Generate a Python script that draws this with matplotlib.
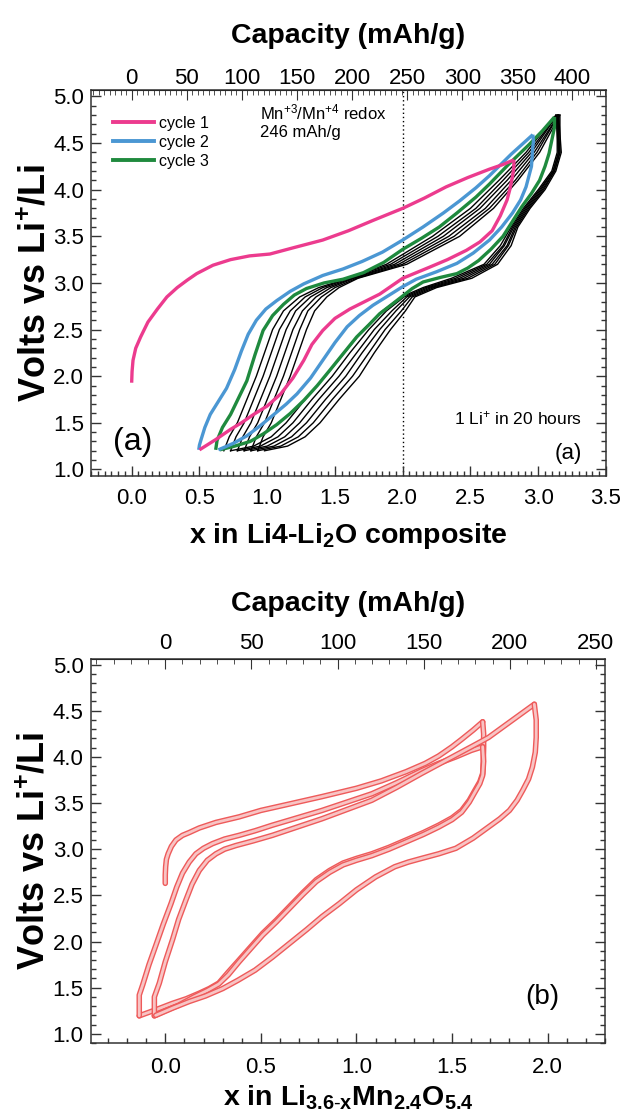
import numpy as np
import matplotlib
matplotlib.use("Agg")
import matplotlib.pyplot as plt
from matplotlib.ticker import MultipleLocator
import matplotlib.patheffects as pe

plt.rcParams['font.family'] = ['Liberation Sans', 'DejaVu Sans']
plt.rcParams['mathtext.fontset'] = 'custom'
plt.rcParams['mathtext.rm'] = 'Liberation Sans'
plt.rcParams['mathtext.it'] = 'Liberation Sans:italic'
plt.rcParams['mathtext.bf'] = 'Liberation Sans:bold'

# ---------------- Panel (a) data ----------------
cyc1_charge_x = [0.0, 0.003, 0.01, 0.03, 0.066, 0.12, 0.19, 0.26, 0.336, 0.41, 0.48, 0.6, 0.73, 0.87,
                 1.02, 1.2, 1.41, 1.6, 1.78, 2.0, 2.16, 2.32, 2.48, 2.64, 2.74, 2.82]
cyc1_charge_v = [1.93, 2.05, 2.17, 2.30, 2.42, 2.58, 2.72, 2.85, 2.95, 3.03, 3.10, 3.19, 3.25, 3.29,
                 3.31, 3.38, 3.46, 3.56, 3.67, 3.80, 3.91, 4.03, 4.13, 4.22, 4.27, 4.32]
cyc1_dis_x = [2.82, 2.82, 2.81, 2.79, 2.77, 2.72, 2.66, 2.57, 2.47, 2.33, 2.20, 2.10, 2.0, 1.92, 1.83,
              1.72, 1.61, 1.50, 1.41, 1.33, 1.27, 1.19, 1.10, 1.0, 0.90, 0.81, 0.73, 0.62, 0.50]
cyc1_dis_v = [4.32, 4.24, 4.14, 4.0, 3.89, 3.72, 3.56, 3.44, 3.35, 3.25, 3.17, 3.11, 3.05, 2.97, 2.88,
              2.80, 2.72, 2.62, 2.49, 2.34, 2.17, 1.98, 1.81, 1.68, 1.59, 1.50, 1.43, 1.32, 1.21]

cyc2_charge_x = [0.495, 0.50, 0.51, 0.54, 0.58, 0.64, 0.70, 0.76, 0.81, 0.86, 0.92, 0.99, 1.07, 1.17,
                 1.27, 1.41, 1.56, 1.70, 1.85, 2.0, 2.15, 2.3, 2.42, 2.54, 2.64, 2.8, 2.96]
cyc2_charge_v = [1.21, 1.26, 1.31, 1.45, 1.59, 1.73, 1.87, 2.07, 2.27, 2.45, 2.60, 2.72, 2.81, 2.91,
                 2.99, 3.08, 3.15, 3.23, 3.33, 3.46, 3.60, 3.75, 3.88, 4.02, 4.15, 4.38, 4.59]
cyc2_dis_x = [2.96, 2.965, 2.96, 2.955, 2.95, 2.93, 2.91, 2.87, 2.81, 2.73, 2.64, 2.52, 2.40, 2.25, 2.10,
              2.0, 1.89, 1.78, 1.68, 1.59, 1.50, 1.41, 1.32, 1.22, 1.14, 1.05, 0.95, 0.85, 0.75, 0.64]
cyc2_dis_v = [4.59, 4.52, 4.46, 4.35, 4.25, 4.14, 4.03, 3.89, 3.75, 3.60, 3.46, 3.32, 3.21, 3.12, 3.04,
              2.96, 2.86, 2.76, 2.65, 2.53, 2.36, 2.17, 1.98, 1.81, 1.70, 1.59, 1.47, 1.36, 1.28, 1.21]

cyc3_charge_x = [0.62, 0.625, 0.63, 0.67, 0.73, 0.79, 0.85, 0.91, 0.97, 1.04, 1.12, 1.2, 1.29, 1.42,
                 1.56, 1.71, 1.86, 2.0, 2.14, 2.27, 2.40, 2.54, 2.64, 2.78, 2.93, 3.03, 3.12]
cyc3_charge_v = [1.21, 1.26, 1.31, 1.45, 1.59, 1.77, 1.95, 2.23, 2.49, 2.65, 2.77, 2.87, 2.94, 3.0,
                 3.04, 3.11, 3.22, 3.36, 3.48, 3.60, 3.75, 3.92, 4.06, 4.27, 4.48, 4.63, 4.78]
cyc3_dis_x = [3.12, 3.12, 3.10, 3.08, 3.05, 3.01, 2.95, 2.88, 2.81, 2.74, 2.65, 2.56, 2.48, 2.40, 2.28,
              2.15, 2.07, 2.0, 1.92, 1.83, 1.75, 1.66, 1.56, 1.46, 1.37, 1.27, 1.17, 1.07, 0.97, 0.875,
              0.76, 0.65]
cyc3_dis_v = [4.78, 4.67, 4.53, 4.39, 4.25, 4.10, 3.96, 3.82, 3.66, 3.50, 3.36, 3.24, 3.16, 3.10, 3.06,
              3.01, 2.94, 2.86, 2.77, 2.67, 2.55, 2.42, 2.24, 2.06, 1.90, 1.74, 1.60, 1.48, 1.38, 1.30,
              1.25, 1.21]

# later cycles (black): x read at fixed voltage levels
later_charge_v = [1.2, 1.35, 1.5, 1.75, 2.0, 2.25, 2.5, 2.7, 2.85, 2.95, 3.05, 3.2, 3.5, 3.8, 4.1, 4.4, 4.8]
later_charge_x = [
    [0.68, 0.72, 0.78, 0.85, 0.92, 0.98, 1.04, 1.12, 1.24, 1.38, 1.60, 1.88, 2.22, 2.50, 2.71, 2.91, 3.13],
    [0.73, 0.77, 0.83, 0.90, 0.97, 1.03, 1.09, 1.17, 1.28, 1.41, 1.61, 1.91, 2.26, 2.54, 2.74, 2.93, 3.14],
    [0.78, 0.82, 0.88, 0.95, 1.02, 1.08, 1.14, 1.21, 1.32, 1.44, 1.63, 1.94, 2.30, 2.57, 2.77, 2.95, 3.14],
    [0.83, 0.87, 0.93, 1.00, 1.07, 1.13, 1.19, 1.26, 1.36, 1.47, 1.64, 1.97, 2.34, 2.61, 2.80, 2.97, 3.15],
    [0.88, 0.92, 0.98, 1.05, 1.12, 1.18, 1.24, 1.30, 1.40, 1.50, 1.66, 2.00, 2.38, 2.64, 2.83, 2.99, 3.15],
    [0.93, 0.97, 1.03, 1.10, 1.17, 1.23, 1.29, 1.35, 1.44, 1.53, 1.67, 2.03, 2.42, 2.67, 2.85, 3.01, 3.16],
]
later_dis_v = [4.8, 4.6, 4.4, 4.2, 4.0, 3.8, 3.6, 3.4, 3.2, 3.05, 2.95, 2.85, 2.7, 2.5, 2.25, 2.0, 1.75,
               1.5, 1.35, 1.25, 1.2]
later_dis_x = [
    [3.13, 3.14, 3.14, 3.10, 3.00, 2.89, 2.80, 2.72, 2.60, 2.36, 2.15, 1.99, 1.85, 1.71, 1.57, 1.43, 1.28, 1.14, 1.03, 0.90, 0.73],
    [3.14, 3.14, 3.15, 3.11, 3.01, 2.90, 2.81, 2.74, 2.62, 2.39, 2.17, 2.01, 1.88, 1.75, 1.61, 1.48, 1.33, 1.19, 1.08, 0.95, 0.78],
    [3.14, 3.15, 3.15, 3.11, 3.02, 2.91, 2.82, 2.75, 2.64, 2.42, 2.19, 2.03, 1.92, 1.79, 1.66, 1.53, 1.38, 1.24, 1.13, 1.00, 0.83],
    [3.15, 3.15, 3.16, 3.12, 3.03, 2.92, 2.83, 2.77, 2.66, 2.45, 2.21, 2.05, 1.95, 1.83, 1.70, 1.58, 1.43, 1.29, 1.18, 1.05, 0.88],
    [3.15, 3.16, 3.16, 3.12, 3.04, 2.93, 2.84, 2.78, 2.68, 2.48, 2.23, 2.07, 1.99, 1.87, 1.75, 1.63, 1.48, 1.34, 1.23, 1.10, 0.93],
    [3.16, 3.16, 3.17, 3.13, 3.05, 2.94, 2.85, 2.80, 2.70, 2.51, 2.25, 2.09, 2.02, 1.91, 1.79, 1.68, 1.53, 1.39, 1.28, 1.15, 0.98],
]

cap_per_x_a = 123.0   # mAh/g per Li (246 mAh/g at x = 2)
cap_ticks_a = [0, 50, 100, 150, 200, 250, 300, 350, 400]
x_ticks_a = [0.0, 0.5, 1.0, 1.5, 2.0, 2.5, 3.0, 3.5]
legend_labels = ['cycle 1', 'cycle 2', 'cycle 3']

# ---------------- Panel (b) data ----------------
b_charge1_x = [0.0, 0.0, 0.002, 0.006, 0.015, 0.032, 0.056, 0.09, 0.125, 0.178, 0.265, 0.386, 0.5, 0.65,
               0.82, 1.0, 1.13, 1.26, 1.36, 1.43, 1.50, 1.55, 1.61, 1.66]
b_charge1_v = [2.63, 2.72, 2.81, 2.89, 2.95, 3.03, 3.10, 3.15, 3.18, 3.23, 3.29, 3.35, 3.42, 3.49,
               3.57, 3.66, 3.74, 3.84, 3.93, 4.01, 4.11, 4.19, 4.29, 4.38]
b_dis1_x = [1.66, 1.665, 1.665, 1.663, 1.66, 1.645, 1.62, 1.59, 1.55, 1.50, 1.43, 1.35, 1.26, 1.17, 1.08,
            1.0, 0.93, 0.86, 0.79, 0.72, 0.65, 0.58, 0.51, 0.45, 0.386, 0.33, 0.28, 0.23, 0.178, 0.11,
            0.038, -0.05, -0.136]
b_dis1_v = [4.38, 4.25, 4.11, 3.95, 3.82, 3.73, 3.64, 3.53, 3.42, 3.34, 3.26, 3.18, 3.10, 3.02, 2.95,
            2.90, 2.85, 2.77, 2.67, 2.53, 2.38, 2.23, 2.09, 1.95, 1.80, 1.67, 1.55, 1.49, 1.44, 1.38,
            1.33, 1.26, 1.195]
b_charge2_x = [-0.136, -0.136, -0.118, -0.085, -0.049, -0.01, 0.03, 0.06, 0.09, 0.125, 0.16, 0.2, 0.247,
               0.31, 0.386, 0.47, 0.56, 0.69, 0.82, 0.95, 1.08, 1.21, 1.34, 1.43, 1.52, 1.6, 1.66]
b_charge2_v = [1.195, 1.42, 1.53, 1.75, 1.96, 2.19, 2.41, 2.59, 2.74, 2.86, 2.95, 3.01, 3.06,
               3.11, 3.15, 3.20, 3.26, 3.34, 3.42, 3.51, 3.60, 3.72, 3.85, 3.93, 4.00, 4.07, 4.11]
b_dis2_x = [1.66, 1.665, 1.66, 1.645, 1.62, 1.59, 1.55, 1.50, 1.43, 1.35, 1.26, 1.17, 1.08, 1.0, 0.93,
            0.86, 0.79, 0.72, 0.65, 0.58, 0.51, 0.45, 0.386, 0.33, 0.28, 0.22, 0.15, 0.07, 0.0, -0.057]
b_dis2_v = [4.11, 3.95, 3.80, 3.71, 3.62, 3.51, 3.40, 3.32, 3.24, 3.16, 3.08, 3.00, 2.93, 2.88, 2.83,
            2.75, 2.65, 2.51, 2.36, 2.21, 2.07, 1.93, 1.78, 1.64, 1.54, 1.47, 1.40, 1.31, 1.25, 1.195]
b_charge3_x = [-0.057, -0.057, -0.031, 0.0, 0.038, 0.07, 0.108, 0.14, 0.178, 0.22, 0.265, 0.31, 0.37,
               0.46, 0.56, 0.69, 0.82, 0.95, 1.08, 1.21, 1.34, 1.43, 1.52, 1.61, 1.69, 1.81, 1.93]
b_charge3_v = [1.195, 1.40, 1.55, 1.78, 2.02, 2.24, 2.45, 2.62, 2.77, 2.88, 2.95, 3.0, 3.04,
               3.09, 3.15, 3.24, 3.33, 3.43, 3.53, 3.67, 3.82, 3.92, 4.02, 4.12, 4.21, 4.39, 4.57]
b_dis3_x = [1.93, 1.94, 1.94, 1.935, 1.92, 1.90, 1.87, 1.84, 1.80, 1.75, 1.69, 1.61, 1.52, 1.43, 1.34,
            1.27, 1.20, 1.10, 1.0, 0.91, 0.82, 0.74, 0.65, 0.56, 0.47, 0.38, 0.30, 0.21, 0.125, 0.04, -0.05]
b_dis3_v = [4.57, 4.40, 4.21, 4.05, 3.89, 3.76, 3.64, 3.53, 3.42, 3.33, 3.24, 3.12, 3.01, 2.95, 2.90,
            2.86, 2.81, 2.70, 2.56, 2.41, 2.27, 2.13, 1.98, 1.83, 1.69, 1.58, 1.49, 1.41, 1.35, 1.28, 1.20]

cap_per_x_b = 111.0
cap_ticks_b = [0, 50, 100, 150, 200, 250]
x_ticks_b = [0.0, 0.5, 1.0, 1.5, 2.0]
y_ticks = [1.0, 1.5, 2.0, 2.5, 3.0, 3.5, 4.0, 4.5, 5.0]

# ---------------- Styling ----------------
PINK = '#ec3b8e'
BLUE = '#4b97d3'
GREEN = '#1f8a3e'
RED_EDGE = '#ee5a5a'
RED_FILL = '#f8c4c4'
TICK_FS = 16
LABEL_FS = 20.5
YLABEL_FS = 26
FRAME = '#333333'

fig = plt.figure(figsize=(6.25, 11.17), dpi=100)
axA = fig.add_axes([0.1456, 0.5739, 0.8240, 0.3456])
axB = fig.add_axes([0.1451, 0.0662, 0.8230, 0.3438])


def style_axes(ax, xminor, xpad, yminor=0.1):
    ax.tick_params(which='both', direction='in', top=False, right=True,
                   labelsize=TICK_FS, width=1.0, color=FRAME)
    ax.tick_params(which='major', length=7)
    ax.tick_params(which='minor', length=3.5)
    ax.tick_params(axis='x', which='both', pad=xpad)
    ax.tick_params(axis='y', which='both', pad=5)
    ax.xaxis.set_minor_locator(MultipleLocator(xminor))
    ax.yaxis.set_minor_locator(MultipleLocator(yminor))
    ax.set_yticks(y_ticks)
    ax.set_yticklabels([f'{v:.1f}' for v in y_ticks])
    for s in ax.spines.values():
        s.set_linewidth(1.1)
        s.set_color(FRAME)


def style_secondary(sec, ticks, minor, pad, labelpad):
    sec.set_xticks(ticks)
    sec.set_xticklabels([str(c) for c in ticks])
    sec.xaxis.set_minor_locator(MultipleLocator(minor))
    sec.tick_params(which='both', direction='in', labelsize=TICK_FS, color=FRAME, pad=pad)
    sec.tick_params(which='major', length=7)
    sec.tick_params(which='minor', length=3.5)
    sec.set_xlabel('Capacity (mAh/g)', fontsize=LABEL_FS, fontweight='bold', labelpad=labelpad)


# ---- panel (a)
for cx in later_charge_x:
    axA.plot(cx, later_charge_v, color='black', lw=1.0, zorder=2, solid_joinstyle='round')
for dx in later_dis_x:
    axA.plot(dx, later_dis_v, color='black', lw=1.0, zorder=2, solid_joinstyle='round')

lw_c = 2.4
kw = dict(lw=lw_c, solid_joinstyle='round', solid_capstyle='butt')
axA.plot(cyc3_charge_x, cyc3_charge_v, color=GREEN, zorder=3, **kw)
axA.plot(cyc3_dis_x, cyc3_dis_v, color=GREEN, zorder=3, **kw)
axA.plot(cyc2_charge_x, cyc2_charge_v, color=BLUE, zorder=4, **kw)
axA.plot(cyc2_dis_x, cyc2_dis_v, color=BLUE, zorder=4, **kw)
axA.plot(cyc1_charge_x, cyc1_charge_v, color=PINK, zorder=5, **kw)
axA.plot(cyc1_dis_x, cyc1_dis_v, color=PINK, zorder=5, **kw)

h1, = axA.plot([], [], color=PINK, lw=2.8)
h2, = axA.plot([], [], color=BLUE, lw=2.8)
h3, = axA.plot([], [], color=GREEN, lw=2.8)
axA.legend([h1, h2, h3], legend_labels, loc='upper left', frameon=False,
           fontsize=11.5, handlelength=2.6, handletextpad=0.3, labelspacing=0.25,
           bbox_to_anchor=(0.03, 0.95), borderaxespad=0)

axA.axvline(2.0, color='black', lw=1.0, ls=(0, (1, 2)), zorder=1)

axA.set_xlim(-0.3, 3.5)
axA.set_ylim(0.93, 5.07)
axA.set_xticks(x_ticks_a)
axA.set_xticklabels([f'{v:.1f}' for v in x_ticks_a])
style_axes(axA, 0.05, xpad=8.5)
axA.set_xlabel('x in Li4-Li$_\\mathbf{2}$O composite', fontsize=LABEL_FS, fontweight='bold', labelpad=9)
axA.set_ylabel('Volts vs Li$^\\mathbf{+}$/Li', fontsize=YLABEL_FS, fontweight='bold', labelpad=0)

secA = axA.secondary_xaxis('top', functions=(lambda x: x * cap_per_x_a, lambda c: c / cap_per_x_a))
style_secondary(secA, cap_ticks_a, 5, pad=0.5, labelpad=18)

axA.text(0.95, 4.83, 'Mn$^{+3}$/Mn$^{+4}$ redox', fontsize=12, va='center', ha='left')
axA.text(0.95, 4.61, '246 mAh/g', fontsize=12, va='center', ha='left')
axA.text(3.32, 1.55, '1 Li$^{+}$ in 20 hours', fontsize=12.5, va='center', ha='right')
axA.text(3.32, 1.17, '(a)', fontsize=16, va='center', ha='right')
axA.text(-0.14, 1.29, '(a)', fontsize=23, va='center', ha='left')

# ---- panel (b)
b_curves = [(b_charge1_x, b_charge1_v), (b_dis1_x, b_dis1_v), (b_charge2_x, b_charge2_v),
            (b_dis2_x, b_dis2_v), (b_charge3_x, b_charge3_v), (b_dis3_x, b_dis3_v)]
for bx, bv in b_curves:
    axB.plot(bx, bv, color=RED_FILL, lw=2.0, solid_joinstyle='round', solid_capstyle='round',
             path_effects=[pe.Stroke(linewidth=4.0, foreground=RED_EDGE), pe.Normal()])

axB.set_xlim(-0.39, 2.30)
axB.set_ylim(0.9, 5.06)
axB.set_xticks(x_ticks_b)
axB.set_xticklabels([f'{v:.1f}' for v in x_ticks_b])
style_axes(axB, 0.1, xpad=10)
axB.set_xlabel('x in Li$_\\mathbf{3.6\\text{-}x}$Mn$_\\mathbf{2.4}$O$_\\mathbf{5.4}$', fontsize=LABEL_FS,
               fontweight='bold', labelpad=4)
axB.set_ylabel('Volts vs Li$^\\mathbf{+}$/Li', fontsize=YLABEL_FS, fontweight='bold', labelpad=0)

secB = axB.secondary_xaxis('top', functions=(lambda x: x * cap_per_x_b, lambda c: c / cap_per_x_b))
style_secondary(secB, cap_ticks_b, 10, pad=3.5, labelpad=16)

axB.text(2.06, 1.40, '(b)', fontsize=20, va='center', ha='right')

fig.savefig('out.png', dpi=100)
